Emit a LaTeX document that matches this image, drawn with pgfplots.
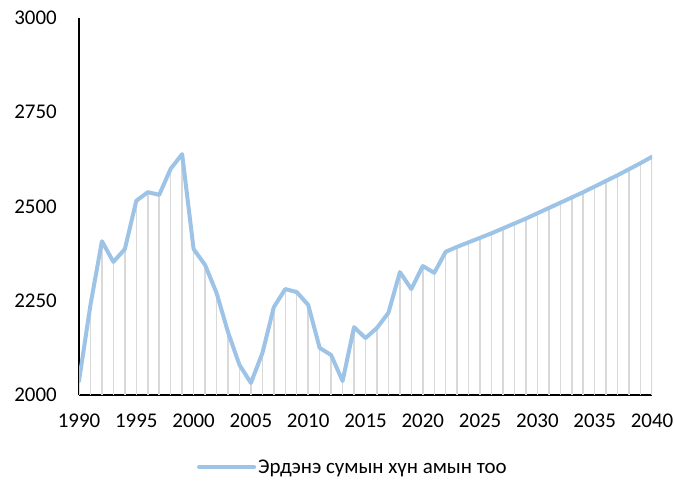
\documentclass[border=0pt]{standalone}
\usepackage{pgfplots}
\pgfplotsset{compat=1.18}
\usepackage{fontspec}
\setmainfont{Carlito}
\usetikzlibrary{calc}
\definecolor{lineblue}{HTML}{9DC3E6}
\definecolor{dropgray}{HTML}{D9D9D9}
\begin{document}
\begin{tikzpicture}
\begin{axis}[
  name=ax,
  scale only axis,
  width=573bp, height=377bp,
  xmin=1990, xmax=2040, ymin=2000, ymax=3000,
  xtick={1990,1995,...,2040},
  ytick={2000,2250,2500,2750,3000},
  axis x line=bottom, axis y line=left,
  axis line style={-, black, line width=1.2bp},
  major tick length=0pt,
  tick style={draw=none},
  /pgf/number format/assume math mode=true,
  /pgf/number format/1000 sep={},
  ticklabel style={font=\fontsize{21}{25}\selectfont, text=black},
  yticklabel style={inner sep=0pt, anchor=east, xshift=-22bp},
  xticklabel style={inner sep=0pt, anchor=north, yshift=-19bp},
  legend style={at={(0.478,-0.191)}, anchor=center, draw=none, fill=none,
    font=\fontsize{21}{25}\selectfont, legend columns=1,
    /tikz/every even column/.append style={column sep=0pt}},
  legend image code/.code={\draw[#1, line width=4bp] (0bp,0bp) -- (55bp,0bp);},
  legend cell align=left,
]
\addplot[ycomb, dropgray, line width=1.5bp, no markers, forget plot] table {
x y
1990 2037
1991 2239
1992 2408
1993 2353
1994 2387
1995 2515
1996 2538
1997 2531
1998 2600
1999 2639
2000 2387
2001 2345
2002 2271
2003 2167
2004 2080
2005 2032
2006 2111
2007 2233
2008 2281
2009 2273
2010 2239
2011 2125
2012 2106
2013 2037
2014 2180
2015 2151
2016 2178
2017 2218
2018 2326
2019 2281
2020 2342
2021 2324
2022 2380
2023 2393
2024 2405
2025 2417
2026 2429
2027 2442
2028 2455
2029 2468
2030 2482
2031 2496
2032 2510
2033 2524
2034 2538
2035 2553
2036 2568
2037 2583
2038 2599
2039 2615
2040 2632
};
\addplot[lineblue, line width=4bp, no markers, line join=round, line cap=round] table {
x y
1990 2037
1991 2239
1992 2408
1993 2353
1994 2387
1995 2515
1996 2538
1997 2531
1998 2600
1999 2639
2000 2387
2001 2345
2002 2271
2003 2167
2004 2080
2005 2032
2006 2111
2007 2233
2008 2281
2009 2273
2010 2239
2011 2125
2012 2106
2013 2037
2014 2180
2015 2151
2016 2178
2017 2218
2018 2326
2019 2281
2020 2342
2021 2324
2022 2380
2023 2393
2024 2405
2025 2417
2026 2429
2027 2442
2028 2455
2029 2468
2030 2482
2031 2496
2032 2510
2033 2524
2034 2538
2035 2553
2036 2568
2037 2583
2038 2599
2039 2615
2040 2632
};
\addlegendentry{Эрдэнэ сумын хүн амын тоо}
\end{axis}
\pgfresetboundingbox
\path ($(ax.south west)+(-79bp,-90bp)$) rectangle ($(ax.north east)+(23bp,18bp)$);
\end{tikzpicture}
\end{document}
